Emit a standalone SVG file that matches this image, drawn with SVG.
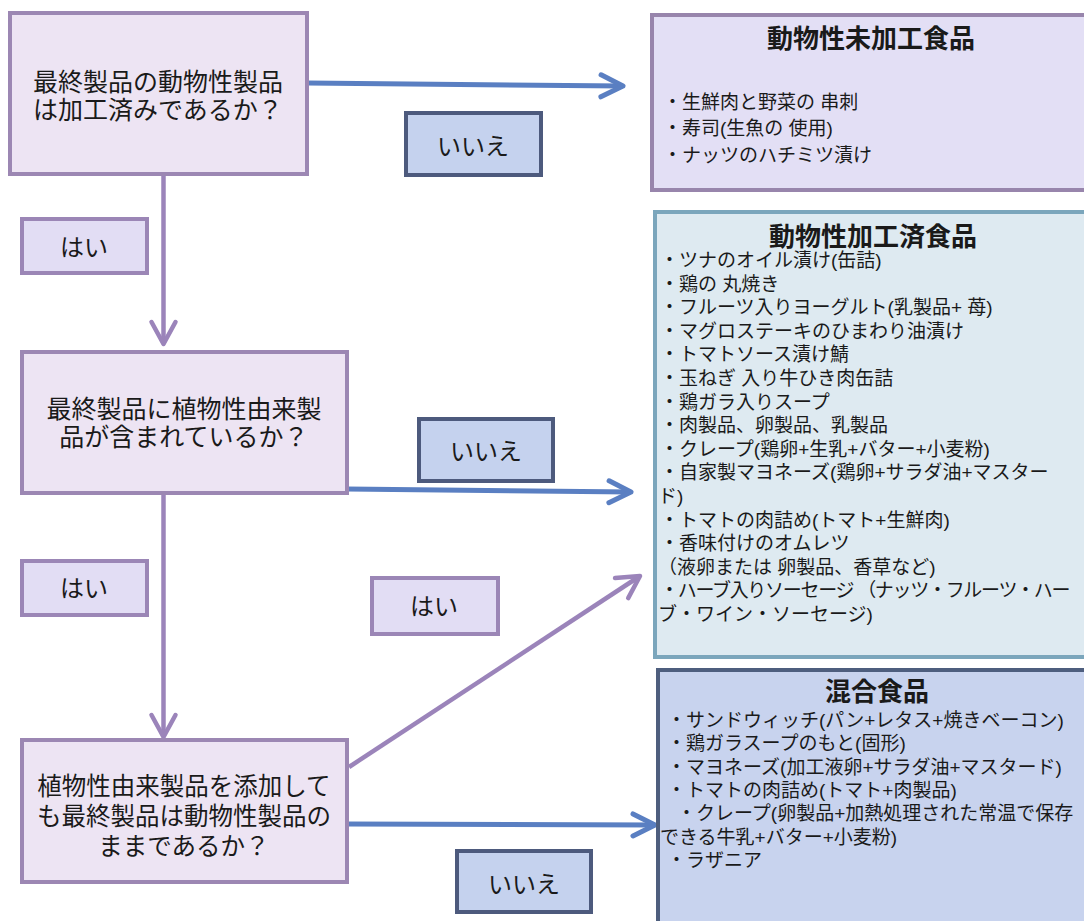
<svg xmlns="http://www.w3.org/2000/svg" width="1084" height="921" viewBox="0 0 1084 921">
<style>
text{font-family:"Liberation Sans","Noto Sans CJK JP","Noto Sans CJK SC",sans-serif;fill:#1a1a1a}
.q{font-size:25px;text-anchor:middle}
.t{font-size:26px;text-anchor:middle;font-weight:bold}
.i{font-size:19px}
.lb{font-size:24px;text-anchor:middle}
.qbox{fill:#ede4f3;stroke:#9c87b3;stroke-width:4}
.yes{fill:#e2ddf4;stroke:#9b86b6;stroke-width:4}
.no{fill:#c5d2ee;stroke:#4d5a7d;stroke-width:4}
.pl{stroke:#9b84ba;stroke-width:4.5;fill:none}
.bl{stroke:#5a7fc2;stroke-width:5;fill:none}
</style>
<defs>
<marker id="ap" markerUnits="userSpaceOnUse" orient="auto" refX="0" refY="0" markerWidth="40" markerHeight="40" viewBox="-30 -20 40 40" overflow="visible">
<path d="M-22,-12 L0,0 L-22,12" fill="none" stroke="#9b84ba" stroke-width="4.5" stroke-linecap="round" stroke-linejoin="round"/>
</marker>
<marker id="ab" markerUnits="userSpaceOnUse" orient="auto" refX="0" refY="0" markerWidth="40" markerHeight="40" viewBox="-30 -20 40 40" overflow="visible">
<path d="M-22,-11 L0,0 L-22,11" fill="none" stroke="#5a7fc2" stroke-width="5" stroke-linecap="round" stroke-linejoin="round"/>
</marker>
</defs>
<rect width="1084" height="921" fill="#ffffff"/>

<g id="connectors">
<line class="bl" x1="307" y1="83" x2="623" y2="86" marker-end="url(#ab)"/>
<line class="pl" x1="163.5" y1="174" x2="163.5" y2="344" marker-end="url(#ap)"/>
<line class="bl" x1="347" y1="489" x2="631" y2="492" marker-end="url(#ab)"/>
<line class="pl" x1="163.5" y1="493" x2="163.5" y2="737" marker-end="url(#ap)"/>
<line class="pl" x1="349" y1="767" x2="640" y2="576" marker-end="url(#ap)"/>
<line class="bl" x1="347" y1="824" x2="655" y2="825" marker-end="url(#ab)"/>
</g>

<g id="q1">
<rect class="qbox" x="10" y="13" width="297" height="161"/>
<text class="q"><tspan x="158" y="90.5">最終製品の動物性製品</tspan><tspan x="158" y="118.5">は加工済みであるか？</tspan></text>
</g>
<g id="q2">
<rect class="qbox" x="22" y="352" width="325" height="141"/>
<text class="q"><tspan x="184" y="418">最終製品に植物性由来製</tspan><tspan x="184" y="446">品が含まれているか？</tspan></text>
</g>
<g id="q3">
<rect class="qbox" x="22" y="740" width="325" height="142"/>
<text class="q" style="font-size:24.5px"><tspan x="184" y="795">植物性由来製品を添加して</tspan><tspan x="184" y="825">も最終製品は動物性製品の</tspan><tspan x="184" y="855">ままであるか？</tspan></text>
</g>

<g id="no1"><rect class="no" x="406" y="113" width="135" height="62"/><text class="lb" x="473" y="155">いいえ</text></g>
<g id="no2"><rect class="no" x="419" y="419" width="134" height="62"/><text class="lb" x="486" y="460">いいえ</text></g>
<g id="no3"><rect class="no" x="457" y="851" width="134" height="61"/><text class="lb" x="524" y="893">いいえ</text></g>
<g id="yes1"><rect class="yes" x="22" y="219" width="125" height="54"/><text class="lb" x="84" y="256">はい</text></g>
<g id="yes2"><rect class="yes" x="22" y="561" width="125" height="54"/><text class="lb" x="84" y="597">はい</text></g>
<g id="yes3"><rect class="yes" x="372" y="578" width="126" height="56"/><text class="lb" x="434" y="615">はい</text></g>

<g id="raw">
<rect x="652" y="15" width="440" height="175" fill="#e3dff5" stroke="#9885ac" stroke-width="4"/>
<text class="t" x="871" y="48">動物性未加工食品</text>
<text class="i"><tspan x="663" y="109">・生鮮肉と野菜の 串刺</tspan><tspan x="663" y="135">・寿司(生魚の 使用)</tspan><tspan x="663" y="162">・ナッツのハチミツ漬け</tspan></text>
</g>

<g id="processed">
<rect x="655" y="212" width="440" height="445" fill="#deeaf1" stroke="#7ba6bc" stroke-width="4"/>
<text class="t" x="873" y="246">動物性加工済食品</text>
<text class="i"><tspan x="660" y="267">・ツナのオイル漬け(缶詰)</tspan><tspan x="660" y="290.6">・鶏の 丸焼き</tspan><tspan x="660" y="314.2">・フルーツ入りヨーグルト(乳製品+ 苺)</tspan><tspan x="660" y="337.8">・マグロステーキのひまわり油漬け</tspan><tspan x="660" y="361.4">・トマトソース漬け鯖</tspan><tspan x="660" y="385">・玉ねぎ 入り牛ひき肉缶詰</tspan><tspan x="660" y="408.6">・鶏ガラ入りスープ</tspan><tspan x="660" y="432.2">・肉製品、卵製品、乳製品</tspan><tspan x="660" y="455.8">・クレープ(鶏卵+生乳+バター+小麦粉)</tspan><tspan x="660" y="479.4">・自家製マヨネーズ(鶏卵+サラダ油+マスター</tspan><tspan x="658" y="503">ド)</tspan><tspan x="660" y="526.6">・トマトの肉詰め(トマト+生鮮肉)</tspan><tspan x="660" y="550.2">・香味付けのオムレツ</tspan><tspan x="658" y="573.8">（液卵または 卵製品、香草など)</tspan></text>
<text class="i" x="660" y="597.4" style="letter-spacing:-1.3px">・ハーブ入りソーセージ （ナッツ・フルーツ・ハー</text>
<text class="i" x="658" y="621">ブ・ワイン・ソーセージ)</text>
</g>

<g id="mixed">
<rect x="658" y="670" width="440" height="270" fill="#c8d3ee" stroke="#4e5e7e" stroke-width="4"/>
<text class="t" x="877" y="701">混合食品</text>
<text class="i"><tspan x="667" y="727">・サンドウィッチ(パン+レタス+焼きベーコン)</tspan><tspan x="667" y="750.3">・鶏ガラスープのもと(固形)</tspan><tspan x="667" y="773.6">・マヨネーズ(加工液卵+サラダ油+マスタード)</tspan><tspan x="667" y="797">・トマトの肉詰め(トマト+肉製品)</tspan><tspan x="677" y="820.3">・クレープ(卵製品+加熱処理された常温で保存</tspan><tspan x="660" y="843.6">できる牛乳+バター+小麦粉)</tspan><tspan x="667" y="867">・ラザニア</tspan></text>
</g>
</svg>
